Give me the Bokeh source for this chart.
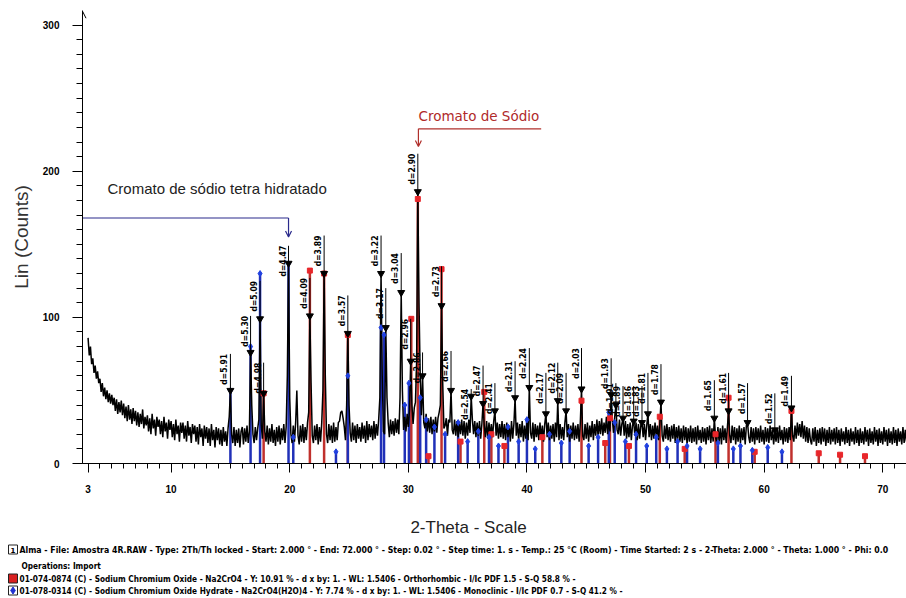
import numpy as np
from bokeh.plotting import figure
from bokeh.layouts import column
from bokeh.models import Range1d, FixedTicker, Label, Arrow, OpenHead
from bokeh.core.properties import value
from bokeh.embed import file_html
from bokeh.resources import INLINE

# ---------------- measured scan (Lin counts every 0.1 deg 2-theta) ----------------
scan_start = 3.0
scan_step = 0.1
counts = [
    86, 74, 80, 68, 72, 62, 67, 58, 63, 55,   # 3
    58, 49, 55, 46, 52, 44, 50, 42, 48, 41,   # 4
    47, 40, 45, 36, 44, 34, 42, 35, 43, 33,   # 5
    41, 31, 39, 29, 40, 30, 37, 27, 38, 29,   # 6
    36, 26, 35, 25, 34, 27, 37, 24, 32, 26,   # 7
    33, 22, 31, 20, 34, 24, 30, 19, 32, 25,   # 8
    30, 20, 29, 18, 32, 22, 28, 17, 30, 23,   # 9
    29, 18, 27, 16, 30, 20, 26, 15, 28, 21,   # 10
    28, 17, 26, 15, 29, 19, 25, 14, 27, 20,   # 11
    26, 15, 25, 13, 27, 18, 24, 12, 26, 17,   # 12
    25, 14, 24, 12, 27, 16, 23, 11, 25, 16,   # 13
    24, 13, 23, 12, 25, 15, 22, 12, 24, 32,   # 14
    50, 20, 14, 25, 12, 23, 14, 24, 11, 22,   # 15
    25, 13, 24, 15, 26, 14, 22, 76, 40, 20,   # 16
    14, 25, 16, 24, 30, 99, 26, 17, 48, 22,   # 17
    15, 26, 13, 24, 15, 27, 14, 23, 12, 25,   # 18
    15, 26, 13, 24, 16, 27, 14, 25, 60, 137,  # 19
    45, 20, 14, 26, 15, 28, 50, 19, 13, 26,   # 20
    15, 27, 14, 25, 16, 28, 35, 101, 55, 19,  # 21
    14, 26, 16, 27, 13, 25, 15, 28, 50, 130,  # 22
    60, 20, 14, 27, 16, 26, 14, 28, 15, 25,   # 23
    16, 28, 29, 35, 36, 31, 25, 16, 40, 89,   # 24
    40, 21, 15, 28, 16, 26, 14, 27, 17, 25,   # 25
    15, 28, 17, 26, 14, 29, 16, 27, 18, 26,   # 26
    16, 29, 17, 27, 19, 30, 45, 130, 60, 22,  # 27
    20, 93, 45, 28, 18, 30, 20, 29, 19, 31,   # 28
    21, 30, 20, 45, 117, 50, 23, 32, 22, 34,  # 29
    25, 37, 70, 40, 27, 38, 42, 70, 186, 110, # 30
    60, 33, 60, 28, 24, 34, 22, 31, 21, 32,   # 31
    20, 30, 22, 32, 21, 31, 35, 40, 108, 55,  # 32
    24, 26, 31, 19, 30, 28, 50, 23, 20, 30,   # 33
    19, 29, 18, 28, 20, 30, 19, 29, 17, 28,   # 34
    19, 30, 21, 46, 30, 20, 29, 18, 28, 19,   # 35
    29, 17, 27, 41, 26, 18, 29, 17, 28, 19,   # 36
    27, 18, 29, 36, 19, 28, 17, 27, 18, 29,   # 37
    17, 27, 16, 28, 18, 26, 15, 29, 17, 27,   # 38
    45, 19, 28, 16, 27, 18, 29, 15, 26, 17,   # 39
    28, 16, 52, 21, 17, 28, 15, 27, 18, 26,   # 40
    16, 28, 17, 26, 15, 27, 34, 18, 28, 16,   # 41
    26, 17, 27, 15, 28, 18, 43, 16, 27, 17,   # 42
    25, 16, 28, 36, 18, 27, 15, 26, 17, 28,   # 43
    16, 26, 17, 27, 15, 28, 51, 19, 16, 27,   # 44
    17, 28, 15, 26, 18, 29, 16, 27, 19, 30,   # 45
    18, 29, 20, 31, 19, 28, 21, 32, 20, 29,   # 46
    22, 47, 30, 21, 32, 40, 23, 20, 30, 19,   # 47
    27, 31, 19, 29, 17, 27, 18, 28, 16, 26,   # 48
    29, 19, 28, 16, 27, 17, 26, 28, 18, 27,   # 49
    16, 26, 34, 18, 27, 16, 26, 17, 28, 18,   # 50
    26, 16, 27, 42, 19, 15, 26, 17, 27, 16,   # 51
    25, 15, 26, 17, 27, 14, 25, 16, 26, 15,   # 52
    24, 14, 26, 16, 25, 13, 24, 15, 26, 14,   # 53
    24, 15, 25, 13, 26, 16, 23, 14, 25, 15,   # 54
    24, 13, 25, 16, 26, 14, 24, 15, 31, 18,   # 55
    14, 25, 15, 24, 13, 26, 16, 24, 14, 25,   # 56
    36, 19, 14, 26, 16, 25, 13, 24, 15, 26,   # 57
    14, 24, 16, 25, 13, 26, 28, 18, 14, 25,   # 58
    15, 24, 13, 25, 16, 24, 14, 26, 15, 23,   # 59
    13, 25, 15, 24, 14, 26, 16, 23, 13, 23,   # 60
    15, 24, 14, 26, 16, 23, 13, 25, 15, 24,   # 61
    14, 25, 16, 38, 19, 15, 26, 17, 28, 19,   # 62
    27, 18, 29, 17, 26, 15, 25, 14, 24, 16,   # 63
    13, 24, 15, 25, 12, 23, 14, 24, 13, 25,   # 64
    15, 24, 12, 23, 14, 25, 13, 23, 15, 24,   # 65
    13, 25, 14, 23, 12, 24, 15, 22, 13, 25,   # 66
    14, 23, 12, 24, 15, 22, 13, 25, 14, 23,   # 67
    12, 24, 14, 22, 13, 25, 15, 23, 12, 24,   # 68
    14, 22, 13, 25, 15, 23, 12, 24, 14, 22,   # 69
    13, 25, 15, 23, 12, 24, 14, 22, 13, 25,   # 70
    14, 23, 12, 24, 15, 22, 13, 25, 14, 23,   # 71
    15,                                       # 72
]

# ---------------- peak search: position, peak counts, top of label stick, d label ----------------
peak_pos = [15.0, 16.7, 17.5, 17.8, 19.9, 21.7, 22.9, 24.9, 27.7, 28.1, 29.4, 30.2,
            30.8, 31.2, 32.8, 33.6, 35.3, 36.3, 37.3, 39.0, 40.2, 41.6, 42.6, 43.3,
            44.6, 47.1, 47.5, 48.1, 49.0, 49.7, 50.2, 51.3, 55.8, 57.0, 58.6, 60.9, 62.3]
peak_counts = [50, 76, 99, 48, 137, 101, 130, 89, 130, 93, 117, 70,
               186, 60, 108, 50, 46, 41, 36, 45, 52, 34, 43, 36,
               51, 47, 40, 31, 29, 28, 34, 42, 31, 36, 28, 23, 38]
peak_label_top = [75, 101, 125, 69, 149, 127, 156, 115, 156, 120, 144, 99,
                  212, 76, 135, 77, 51, 67, 55, 70, 79, 62, 69, 62,
                  79, 72, 55, 53, 53, 53, 62, 68, 57, 62, 55, 48, 60]
peak_labels = ["d=5.91", "d=5.30", "d=5.09", "d=4.98", "d=4.47", "d=4.09", "d=3.89",
               "d=3.57", "d=3.22", "d=3.17", "d=3.04", "d=2.96", "d=2.90", "d=2.86",
               "d=2.73", "d=2.66", "d=2.54", "d=2.47", "d=2.41", "d=2.31", "d=2.24",
               "d=2.17", "d=2.12", "d=2.09", "d=2.03", "d=1.93", "d=1.91", "d=1.89",
               "d=1.86", "d=1.83", "d=1.81", "d=1.78", "d=1.65", "d=1.61", "d=1.57",
               "d=1.52", "d=1.49"]

# ---------------- PDF reference lines ----------------
na2cro4_pos = [17.8, 21.7, 22.9, 24.9, 30.25, 30.8, 31.7, 32.8, 34.4, 36.4, 37.0, 38.1,
               41.3, 44.6, 46.6, 47.0, 48.6, 51.2, 53.3, 55.9, 57.0, 59.2, 62.3, 64.6, 66.4, 68.5]
na2cro4_int = [48, 132, 130, 88, 99, 181, 5, 133, 15, 49, 20, 12,
               18, 43, 14, 31, 12, 32, 10, 20, 45, 8, 36, 7, 6, 5]
hydrate_pos = [15.0, 16.7, 17.5, 19.9, 20.3, 23.9, 24.9, 27.7, 27.95, 29.7, 30.05, 31.0,
               31.5, 32.2, 33.1, 34.2, 35.0, 35.9, 36.8, 37.6, 38.4, 39.3, 40.0, 40.7,
               41.9, 42.9, 43.6, 45.2, 46.0, 46.9, 47.4, 48.3, 49.2, 50.1, 50.9, 51.8,
               52.7, 53.5, 54.6, 56.1, 57.4, 58.0, 59.0, 60.3, 61.5]
hydrate_int = [50, 80, 130, 137, 18, 8, 60, 93, 88, 40, 55, 45,
               30, 25, 20, 28, 15, 22, 18, 12, 25, 15, 30, 10,
               20, 14, 22, 12, 18, 35, 28, 15, 20, 12, 18, 10,
               15, 12, 10, 14, 10, 12, 9, 11, 8]

x_ticks = [3, 10, 20, 30, 40, 50, 60, 70]
x_minor_ticks = list(range(3, 73))
y_ticks = [0, 100, 200, 300]
y_minor_ticks = list(range(0, 310, 10))

legend_lines = [
    "Alma - File: Amostra 4R.RAW - Type: 2Th/Th locked - Start: 2.000 \u00b0 - End: 72.000 \u00b0 - Step: 0.02 \u00b0 - Step time: 1. s - Temp.: 25 \u00b0C (Room) - Time Started: 2 s - 2-Theta: 2.000 \u00b0 - Theta: 1.000 \u00b0 - Phi: 0.0",
    "Operations: Import",
    "01-074-0874 (C) - Sodium Chromium Oxide - Na2CrO4 - Y: 10.91 % - d x by: 1. - WL: 1.5406 - Orthorhombic - I/Ic PDF 1.5 - S-Q 58.8 % -",
    "01-078-0314 (C) - Sodium Chromium Oxide Hydrate - Na2CrO4(H2O)4 - Y: 7.74 % - d x by: 1. - WL: 1.5406 - Monoclinic - I/Ic PDF 0.7 - S-Q 41.2 % -",
]

# ---------------- geometry ----------------
X0, X1 = 2.53, 72.0
Y0, Y1 = 0.0, 310.0
LEFT, TOP, FW, FH = 82, 10, 824, 453
MAIN_H = 498


def sx(px):
    return X0 + (px - LEFT) * (X1 - X0) / FW


def sy(py):
    return Y0 + (TOP + FH - py) * (Y1 - Y0) / FH


two_theta = scan_start + scan_step * np.arange(len(counts))

p = figure(width=906, height=MAIN_H, x_range=Range1d(X0, X1), y_range=Range1d(Y0, Y1),
           output_backend="svg", toolbar_location=None, frame_align=False,
           min_border_left=LEFT, min_border_right=0, min_border_top=TOP,
           min_border_bottom=MAIN_H - TOP - FH)
p.xgrid.visible = False
p.ygrid.visible = False
p.outline_line_color = None

# axes
p.xaxis.ticker = FixedTicker(ticks=x_ticks, minor_ticks=x_minor_ticks)
p.xaxis.major_tick_in = 0
p.xaxis.major_tick_out = 9
p.xaxis.minor_tick_in = 0
p.xaxis.minor_tick_out = 5
p.xaxis.major_label_standoff = 12
p.xaxis.major_label_text_font = "Liberation Sans"
p.xaxis.major_label_text_font_style = "bold"
p.xaxis.major_label_text_font_size = "10px"
p.xaxis.major_label_text_color = "black"

p.yaxis.ticker = FixedTicker(ticks=y_ticks, minor_ticks=y_minor_ticks)
p.yaxis.major_tick_in = 0
p.yaxis.major_tick_out = 10
p.yaxis.minor_tick_in = 0
p.yaxis.minor_tick_out = 6
p.yaxis.major_label_standoff = 13
p.yaxis.major_label_text_font = "Liberation Sans"
p.yaxis.major_label_text_font_style = "bold"
p.yaxis.major_label_text_font_size = "10px"
p.yaxis.major_label_text_color = "black"
p.yaxis.axis_label = "Lin (Counts)"
p.yaxis.axis_label_text_font = "Liberation Sans"
p.yaxis.axis_label_text_font_style = "normal"
p.yaxis.axis_label_text_font_size = "19px"
p.yaxis.axis_label_text_color = "#333333"
p.yaxis.axis_label_standoff = 8
for ax in (p.xaxis, p.yaxis):
    ax.axis_line_color = "black"
    ax.major_tick_line_color = "black"
    ax.minor_tick_line_color = "black"

# arrow at top of the intensity axis
p.add_layout(Arrow(x_start=X0, y_start=295, x_end=X0, y_end=309.5,
                   end=OpenHead(size=7, line_width=1, line_color="black"),
                   line_color="black", line_width=1))

# reference line sticks
p.segment(x0=na2cro4_pos, y0=0, x1=na2cro4_pos, y1=na2cro4_int,
          line_color="#c0302c", line_width=2.5)
p.segment(x0=hydrate_pos, y0=0, x1=hydrate_pos, y1=hydrate_int,
          line_color="#2030b8", line_width=2.5)

# measured pattern
p.line(two_theta, counts, line_color="black", line_width=1.5)

p.scatter(na2cro4_pos, na2cro4_int, marker="square", size=5,
          fill_color="#e8262a", line_color="#e8262a")
p.scatter(hydrate_pos, hydrate_int, marker="diamond", size=6,
          fill_color="#2040e0", line_color="#2040e0")

# peak labels (d-spacings)
p.segment(x0=peak_pos, y0=peak_label_top, x1=peak_pos, y1=peak_counts,
          line_color="black", line_width=1)
p.scatter(peak_pos, peak_counts, marker="inverted_triangle", size=7,
          fill_color="black", line_color="black")
p.text(x=peak_pos, y=peak_label_top, text=peak_labels, angle=np.pi / 2,
       text_align="right", text_baseline="bottom", x_offset=-1,
       text_font=value("DejaVu Sans Condensed"), text_font_style="bold",
       text_font_size="8.5px", text_color="black")

# phase annotations
p.line([X0, 19.9], [168, 168], line_color="#2a2a8c", line_width=1.2)
p.add_layout(Arrow(x_start=19.9, y_start=168, x_end=19.9, y_end=155,
                   end=OpenHead(size=6, line_width=1.2, line_color="#2a2a8c"),
                   line_color="#2a2a8c", line_width=1.2))
p.add_layout(Label(x=sx(107), y=sy(188), text="Cromato de s\u00f3dio tetra hidratado",
                   text_align="left", text_baseline="middle", text_font="Liberation Sans",
                   text_font_size="15px", text_color="#222222"))

p.line([41.2, 30.85], [229, 229], line_color="#b0302c", line_width=1.2)
p.add_layout(Arrow(x_start=30.85, y_start=229, x_end=30.85, y_end=217,
                   end=OpenHead(size=6, line_width=1.2, line_color="#b0302c"),
                   line_color="#b0302c", line_width=1.2))
p.add_layout(Label(x=sx(418), y=sy(115), text="Cromato de S\u00f3dio",
                   text_align="left", text_baseline="middle", text_font="DejaVu Sans",
                   text_font_size="13.5px", text_color="#b02a2a"))

# ---------------- axis title and scan / phase legend below the chart ----------------
p2 = figure(width=906, height=598 - MAIN_H, x_range=Range1d(0, 906),
            y_range=Range1d(598, MAIN_H), output_backend="svg", toolbar_location=None,
            frame_align=False, min_border=0, x_axis_type=None, y_axis_type=None)
p2.xgrid.visible = False
p2.ygrid.visible = False
p2.outline_line_color = None

p2.text(x=[468], y=[527], text=["2-Theta - Scale"], text_align="center",
        text_baseline="middle", text_font=value("Liberation Sans"),
        text_font_size="17px", text_color="#222222")

legend_y = [549, 565, 578, 590]
legend_x = [19, 21, 19, 19]
legend_size = ["8.7px", "8.2px", "8.2px", "8.2px"]
for lx, ly, t, fs in zip(legend_x, legend_y, legend_lines, legend_size):
    p2.text(x=[lx], y=[ly], text=[t], text_align="left", text_baseline="middle",
            text_font=value("DejaVu Sans Condensed"), text_font_style="bold",
            text_font_size=fs, text_color="black")

# legend symbols: scan, Na2CrO4, Na2CrO4(H2O)4
p2.scatter([12.5, 12.5, 12.5], [549, 578, 590], marker="square", size=9,
           fill_color=["white", "#d82020", "white"], line_color="#222222", line_width=1)
p2.text(x=[12.5], y=[549.5], text=["1"], text_align="center", text_baseline="middle",
        text_font=value("DejaVu Sans"), text_font_style="bold", text_font_size="7px",
        text_color="black")
p2.scatter([12.5], [590], marker="diamond", size=7, fill_color="#2030d0", line_color="#2030d0")

layout = column(p, p2, spacing=0)
open("out.html", "w").write(file_html(layout, INLINE))
